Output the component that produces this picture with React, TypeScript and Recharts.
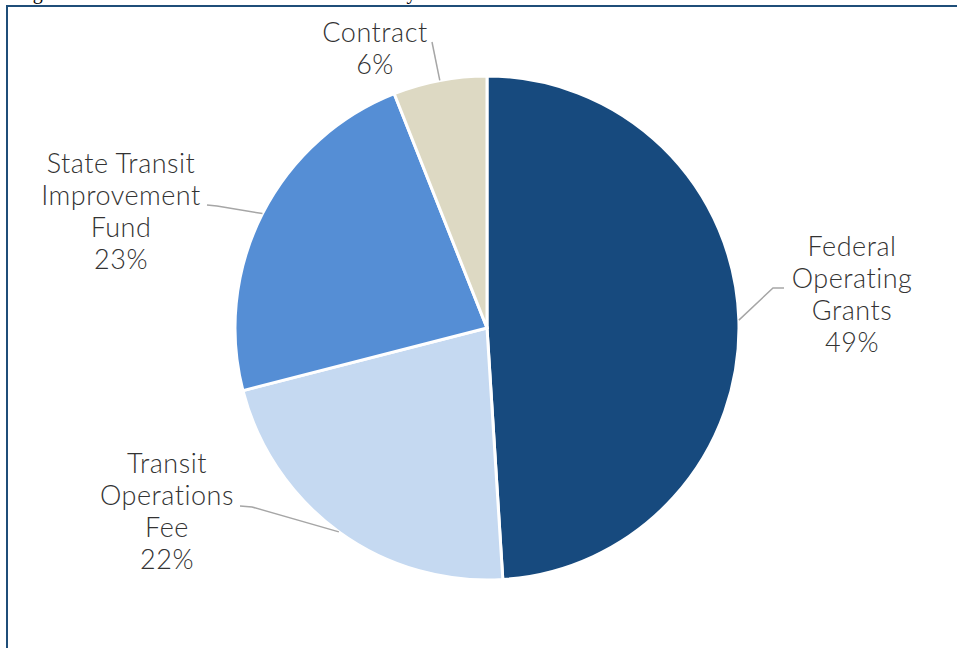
import { Cell, Pie, PieChart } from "recharts";

const CATEGORIES = [
  "Federal Operating Grants",
  "Transit Operations Fee",
  "State Transit Improvement Fund",
  "Contract",
];
const SHARES = [49, 22, 23, 6];
const LABEL_LINES = [
  ["Federal", "Operating", "Grants"],
  ["Transit", "Operations", "Fee"],
  ["State Transit", "Improvement", "Fund"],
  ["Contract"],
];
const COLORS = ["#174A7E", "#C5D9F1", "#558ED5", "#DDD9C3"];

// label placement: leader line bend points, text centre x, first baseline y
const LABEL_LAYOUT = [
  { bend: [[773, 288], [784, 288]], x: 852, y: 256 },
  { bend: [[252, 507], [240, 506]], x: 167, y: 473 },
  { bend: [[217, 206], [207, 205]], x: 121, y: 173 },
  { bend: [[432, 42]], x: 375, y: 42 },
];

const data = CATEGORIES.map((name, i) => ({ name, value: SHARES[i] }));

const RAD = Math.PI / 180;
const FONT = "Lato, 'Noto Sans', sans-serif";

function renderLabel(props: any) {
  const { cx, cy, midAngle, outerRadius, index, value } = props;
  const layout = LABEL_LAYOUT[index];
  const sx = cx + outerRadius * Math.cos(-midAngle * RAD);
  const sy = cy + outerRadius * Math.sin(-midAngle * RAD);
  const pts = [[sx, sy], ...layout.bend].map((p) => p.join(",")).join(" ");
  const lines = [...LABEL_LINES[index], `${value}%`];
  return (
    <g key={`label-${index}`}>
      <polyline points={pts} fill="none" stroke="#A6A6A6" strokeWidth={1.5} />
      <text
        x={layout.x}
        y={layout.y}
        textAnchor="middle"
        fill="#333"
        fontSize={27}
        fontWeight={300}
        letterSpacing={0.5}
        fontFamily={FONT}
      >
        {lines.map((l, i) => (
          <tspan key={i} x={layout.x} dy={i === 0 ? 0 : 32}>
            {l}
          </tspan>
        ))}
      </text>
    </g>
  );
}

export default function App() {
  return (
    <div
      style={{
        position: "absolute",
        left: 0,
        top: 0,
        width: 957,
        height: 648,
        background: "#fff",
        overflow: "hidden",
      }}
    >
      <svg
        width={957}
        height={6}
        style={{ position: "absolute", left: 0, top: 0, overflow: "hidden" }}
      >
        <text
          x={16}
          y={-1}
          fontSize={20}
          fontFamily="'Liberation Serif', serif"
          fill="#000"
        >
          Figure 6: Metro Transit Revenue Sources 2021 by Source
        </text>
      </svg>
      <div
        style={{
          position: "absolute",
          left: 6,
          top: 5,
          right: 0,
          bottom: 0,
          borderTop: "2px solid #1F4E79",
          borderLeft: "2px solid #1F4E79",
        }}
      />
      <div style={{ position: "absolute", left: 0, top: 0 }}>
        <PieChart
          width={957}
          height={648}
          margin={{ top: 0, right: 0, bottom: 0, left: 0 }}
        >
          <Pie
            data={data}
            dataKey="value"
            nameKey="name"
            cx={487}
            cy={328}
            outerRadius={252}
            startAngle={90}
            endAngle={-270}
            stroke="#fff"
            strokeWidth={3}
            labelLine={false}
            label={renderLabel}
            isAnimationActive={false}
          >
            {data.map((d, i) => (
              <Cell key={d.name} fill={COLORS[i]} />
            ))}
          </Pie>
        </PieChart>
      </div>
    </div>
  );
}
